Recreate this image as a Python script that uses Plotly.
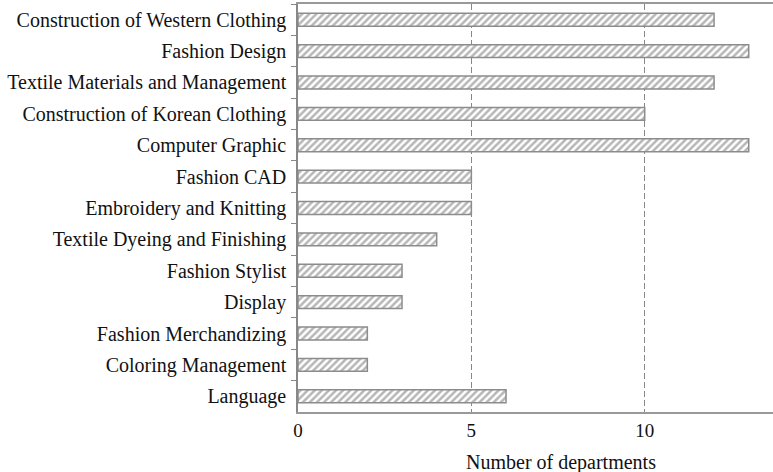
import plotly.graph_objects as go

categories = [
    "Construction of Western Clothing",
    "Fashion Design",
    "Textile Materials and Management",
    "Construction of Korean Clothing",
    "Computer Graphic",
    "Fashion CAD",
    "Embroidery and Knitting",
    "Textile Dyeing and Finishing",
    "Fashion Stylist",
    "Display",
    "Fashion Merchandizing",
    "Coloring Management",
    "Language",
]
values = [12, 13, 12, 10, 13, 5, 5, 4, 3, 3, 2, 2, 6]
x_ticks = [0, 5, 10]
x_title = "Number of departments"

FONT = "Liberation Serif, Times New Roman, serif"

fig = go.Figure(go.Bar(
    x=values, y=categories, orientation="h", width=0.41,
    marker=dict(
        color="white",
        line=dict(color="#8c8c8c", width=1.5),
        pattern=dict(shape="/", fgcolor="#6e6e6e", bgcolor="white", size=5, solidity=0.5),
    ),
))

fig.update_layout(
    width=773, height=472,
    margin=dict(l=298, r=0, t=4, b=60),
    paper_bgcolor="white", plot_bgcolor="white",
    font=dict(family=FONT, size=20, color="#111"),
    showlegend=False,
    annotations=[dict(
        text=x_title, xref="paper", yref="paper", x=0.554, y=0, yshift=-37,
        xanchor="center", yanchor="top", showarrow=False,
        font=dict(size=20, family=FONT, color="#111"),
    )],
)
fig.update_xaxes(
    range=[0, 13.7], tickvals=x_ticks, ticks="", showline=True, linecolor="#999",
    linewidth=1.5, mirror=True, showgrid=True, gridcolor="#888", griddash="6px,3px",
    gridwidth=1, zeroline=False, tickfont=dict(size=19),
)
fig.update_yaxes(
    autorange="reversed", showline=True, linecolor="#888", linewidth=1.5,
    ticks="outside", tickson="boundaries", ticklen=5, tickcolor="#888",
    showgrid=False, mirror=False, ticklabelstandoff=6,
)
fig.write_html("out.html", config={"displayModeBar": False},
               post_script="document.body.style.margin='0';")
